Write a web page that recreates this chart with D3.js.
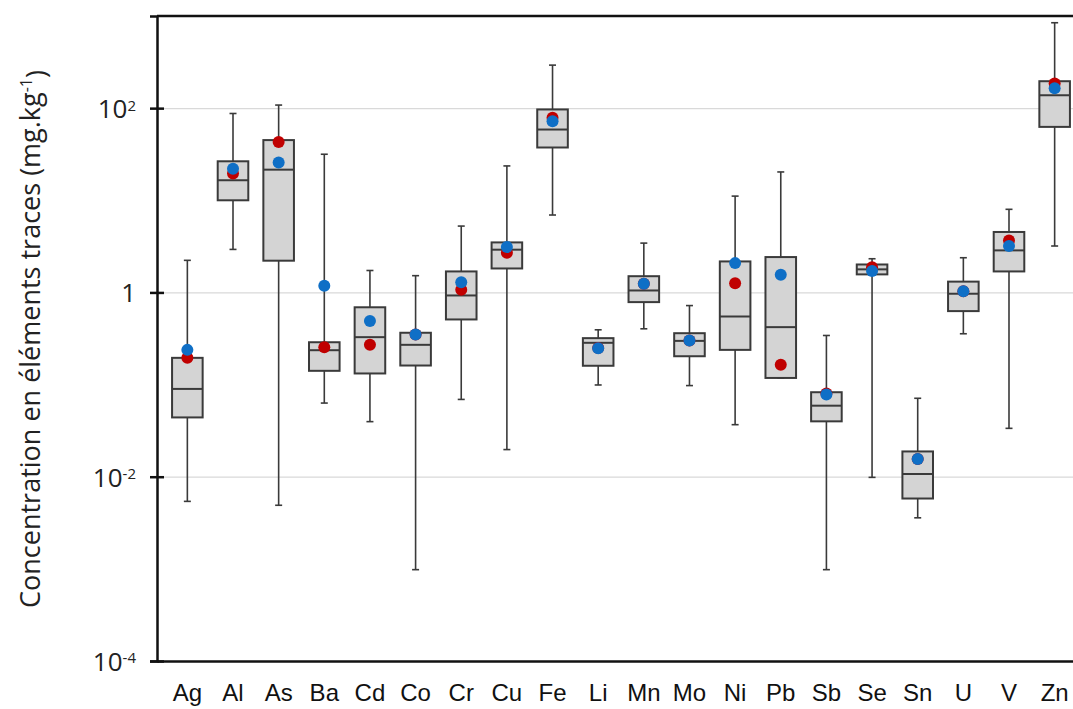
<!DOCTYPE html>
<html>
<head>
<meta charset="utf-8">
<script src="https://cdn.jsdelivr.net/npm/d3@7"></script>
<style>
  html, body { margin: 0; padding: 0; background: #fff; overflow: hidden; }
  svg { display: block; }
</style>
</head>
<body>
<div id="chart"></div>
<script>
// elements on the x axis
const elements = ['Ag', 'Al', 'As', 'Ba', 'Cd', 'Co', 'Cr', 'Cu', 'Fe', 'Li',
  'Mn', 'Mo', 'Ni', 'Pb', 'Sb', 'Se', 'Sn', 'U', 'V', 'Zn'];

// box plot stats, mg.kg-1
const whiskerLow = [0.0054, 2.93, 0.0049, 0.063, 0.0396, 0.00098, 0.069, 0.0197, 6.92, 0.099,
  0.403, 0.0975, 0.0367, 0.118, 0.00098, 0.00984, 0.00358, 0.356, 0.0335, 3.19];
const q1 = [0.044, 10, 2.21, 0.141, 0.132, 0.161, 0.509, 1.82, 37.4, 0.16,
  0.785, 0.203, 0.238, 0.118, 0.0399, 1.57, 0.0058, 0.627, 1.69, 62.6];
const median = [0.0897, 16.5, 21.5, 0.236, 0.327, 0.27, 0.927, 2.91, 58.6, 0.284,
  1.05, 0.298, 0.548, 0.42, 0.059, 1.78, 0.0107, 0.968, 2.86, 138];
const q3 = [0.195, 26.5, 45, 0.288, 0.69, 0.365, 1.69, 3.49, 96.8, 0.319,
  1.5, 0.361, 2.17, 2.42, 0.0826, 2.01, 0.0188, 1.31, 4.53, 196];
const whiskerHigh = [2.23, 87.5, 108, 31.6, 1.73, 1.52, 5.25, 23.6, 293, 0.393,
  3.43, 0.72, 11.1, 20.3, 0.341, 2.32, 0.071, 2.38, 7.98, 845];

// red and blue markers
const redPoints = [0.195, 19.5, 43, 0.254, 0.27, 0.35, 1.07, 2.7, 78.5, 0.25,
  1.24, 0.3, 1.26, 0.164, 0.08, 1.88, 0.0156, 1.03, 3.67, 185];
const bluePoints = [0.238, 22, 25.7, 1.18, 0.49, 0.349, 1.29, 3.11, 72, 0.248,
  1.24, 0.301, 2.08, 1.56, 0.078, 1.71, 0.0156, 1.03, 3.19, 164];

const yTicks = [1e-4, 1e-2, 1, 1e2];
const yGrid = [1e-2, 1, 1e2];
const yTickLabels = [['10', '-4'], ['10', '-2'], ['1', ''], ['10', '2']];

const rows = elements.map((el, i) => ({
  el,
  lo: whiskerLow[i], q1: q1[i], med: median[i], q3: q3[i], hi: whiskerHigh[i],
  red: redPoints[i], blue: bluePoints[i]
}));

const W = 1073, H = 709;
const margin = { top: 16, left: 157, bottom: 48 };
const plotW = 928;
const plotH = H - margin.top - margin.bottom;

const svg = d3.select('#chart').append('svg')
  .attr('width', W)
  .attr('height', H);

const x = d3.scaleBand()
  .domain(elements)
  .range([0, plotW])
  .padding(0.33);

const y = d3.scaleLog()
  .domain([1e-4, 1e3])
  .range([plotH, 0]);

const g = svg.append('g')
  .attr('transform', `translate(${margin.left},${margin.top})`);

// gridlines
g.append('g')
  .call(d3.axisLeft(y).tickValues(yGrid).tickSize(-plotW).tickFormat(''))
  .call(s => s.select('.domain').remove())
  .call(s => s.selectAll('.tick line').attr('stroke', '#d9d9d9').attr('stroke-width', 1.2));

// frame
g.append('line')
  .attr('x1', 0).attr('x2', plotW)
  .attr('y1', 0).attr('y2', 0)
  .attr('stroke', '#111').attr('stroke-width', 2.5);
g.append('line')
  .attr('x1', plotW).attr('x2', plotW)
  .attr('y1', 0).attr('y2', plotH)
  .attr('stroke', '#111').attr('stroke-width', 2.5);

const cx = d => x(d.el) + x.bandwidth() / 2;
const ink = '#3a3a3a';

const boxes = g.selectAll('.box')
  .data(rows)
  .join('g')
  .attr('class', 'box');

// whiskers
boxes.append('line')
  .attr('x1', cx).attr('x2', cx)
  .attr('y1', d => y(d.lo)).attr('y2', d => y(d.hi))
  .attr('stroke', ink).attr('stroke-width', 1.6);

['lo', 'hi'].forEach(k => {
  boxes.append('line')
    .attr('x1', d => cx(d) - 3.5).attr('x2', d => cx(d) + 3.5)
    .attr('y1', d => y(d[k])).attr('y2', d => y(d[k]))
    .attr('stroke', ink).attr('stroke-width', 1.6);
});

// boxes
boxes.append('rect')
  .attr('x', d => x(d.el))
  .attr('width', x.bandwidth())
  .attr('y', d => y(d.q3))
  .attr('height', d => y(d.q1) - y(d.q3))
  .attr('fill', '#d4d4d4')
  .attr('stroke', ink)
  .attr('stroke-width', 2);

boxes.append('line')
  .attr('x1', d => x(d.el)).attr('x2', d => x(d.el) + x.bandwidth())
  .attr('y1', d => y(d.med)).attr('y2', d => y(d.med))
  .attr('stroke', ink).attr('stroke-width', 2);

boxes.append('circle')
  .attr('cx', cx).attr('cy', d => y(d.red))
  .attr('r', 6)
  .attr('fill', '#c00000');

boxes.append('circle')
  .attr('cx', cx).attr('cy', d => y(d.blue))
  .attr('r', 6)
  .attr('fill', '#0f6fc6');

// y axis
const yAxis = g.append('g')
  .call(d3.axisLeft(y).tickValues(yTicks).tickSize(7).tickFormat(''));
yAxis.select('.domain').attr('stroke', '#111').attr('stroke-width', 2.5);
yAxis.selectAll('.tick line')
  .attr('x1', -7).attr('x2', 7)
  .attr('stroke', '#111').attr('stroke-width', 2.5);

yAxis.selectAll('.tick').each(function (v) {
  const lab = yTickLabels[yTicks.indexOf(v)];
  const t = d3.select(this).append('text')
    .attr('x', -21)
    .attr('dy', '0.36em')
    .attr('text-anchor', 'end')
    .attr('fill', '#222')
    .style('font-family', '"Open Sans", sans-serif')
    .style('font-size', '26px');
  t.append('tspan').text(lab[0]);
  if (lab[1]) {
    t.append('tspan')
      .attr('dy', '-0.5em')
      .style('font-size', '15px')
      .text(lab[1]);
  }
});

// x axis
const xAxis = g.append('g')
  .attr('transform', `translate(0,${plotH})`)
  .call(d3.axisBottom(x).tickSize(0).tickPadding(23));
xAxis.select('.domain').attr('stroke', '#111').attr('stroke-width', 2.5);
xAxis.selectAll('text')
  .attr('fill', '#111')
  .style('font-family', '"Liberation Sans", Arial, sans-serif')
  .style('font-size', '24px');

// y axis title
const title = svg.append('text')
  .attr('transform', 'translate(40,339) rotate(-90)')
  .attr('text-anchor', 'middle')
  .attr('fill', '#222')
  .style('font-family', '"Open Sans", sans-serif')
  .style('font-size', '27px');
title.append('tspan').text('Concentration en éléments traces (mg.kg');
title.append('tspan').attr('dy', '-0.5em').style('font-size', '16px').text('-1');
title.append('tspan').attr('dy', '0.5em').text(')');
</script>
</body>
</html>
